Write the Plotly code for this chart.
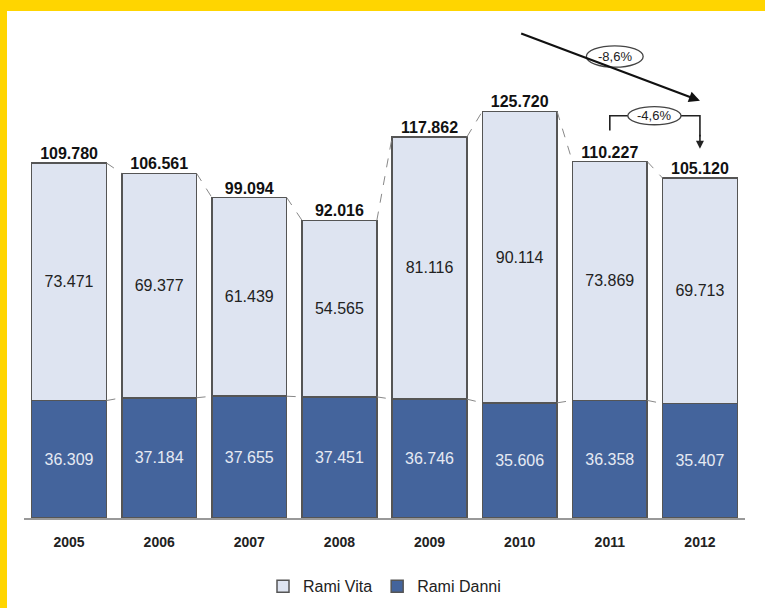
import plotly.graph_objects as go

years = ["2005", "2006", "2007", "2008", "2009", "2010", "2011", "2012"]
rami_vita = [73.471, 69.377, 61.439, 54.565, 81.116, 90.114, 73.869, 69.713]
rami_danni = [36.309, 37.184, 37.655, 37.451, 36.746, 35.606, 36.358, 35.407]
totals = [109.780, 106.561, 99.094, 92.016, 117.862, 125.720, 110.227, 105.120]
change_total = "-8,6%"
change_last = "-4,6%"

def fmt(v):
    return f"{v:.3f}"

xs = list(range(len(years)))
BW = 0.83
FONT = "Liberation Sans, Arial, sans-serif"
VITA_C = "#DEE4F1"
DANNI_C = "#44649C"
EDGE = "#555555"

fig = go.Figure()
fig.add_trace(go.Bar(
    x=xs, y=rami_danni, name="Rami Danni", width=BW,
    marker=dict(color=DANNI_C, line=dict(color=EDGE, width=1.5)),
    text=[fmt(v) for v in rami_danni], textposition="inside", insidetextanchor="middle",
    textangle=0, constraintext="none",
    textfont=dict(family=FONT, size=16, color="#E6EAF3"), hoverinfo="skip",
    legendrank=2,
))
fig.add_trace(go.Bar(
    x=xs, y=rami_vita, name="Rami Vita", width=BW,
    marker=dict(color=VITA_C, line=dict(color=EDGE, width=1.5)),
    text=[fmt(v) for v in rami_vita], textposition="inside", insidetextanchor="middle",
    textangle=0, constraintext="none",
    textfont=dict(family=FONT, size=16, color="#222222"), hoverinfo="skip",
    legendrank=1,
))

# dashed connectors between bars (totals and danni boundary)
for series in (totals, rami_danni):
    for i in range(len(xs) - 1):
        fig.add_trace(go.Scatter(
            x=[xs[i] + BW / 2, xs[i + 1] - BW / 2], y=[series[i], series[i + 1]],
            mode="lines", line=dict(color="#888888", width=1, dash="dash"),
            showlegend=False, hoverinfo="skip",
        ))

# totals above bars
fig.add_trace(go.Scatter(
    x=xs, y=totals, mode="text", text=[fmt(v) for v in totals],
    textposition="top center",
    textfont=dict(family=FONT, size=16, color="#111111", weight="bold"),
    showlegend=False, hoverinfo="skip",
))

# arrow for overall change (2010 -> 2012)
fig.add_annotation(x=7.0, y=129.0, ax=5.0, ay=150.0, xref="x", yref="y", axref="x", ayref="y",
                   showarrow=True, arrowhead=2, arrowsize=1, arrowwidth=2.2, arrowcolor="#111111",
                   text="")
fig.add_shape(type="circle", xref="x", yref="y", x0=5.74, x1=6.37, y0=139.4, y1=146.0,
              fillcolor="white", line=dict(color="#444444", width=1.3))
fig.add_annotation(x=6.055, y=142.7, xref="x", yref="y", text=change_total, showarrow=False,
                   font=dict(family=FONT, size=13, color="#222222"))

# bracket for last-year change (2011 -> 2012)
fig.add_shape(type="path", xref="x", yref="y",
              path="M 6,119.8 L 6,124.4 L 7.0,124.4 L 7.0,118",
              line=dict(color="#222222", width=1.6))
fig.add_annotation(x=7.0, y=114.2, ax=7.0, ay=119.0, xref="x", yref="y", axref="x", ayref="y",
                   showarrow=True, arrowhead=2, arrowsize=1, arrowwidth=1.6, arrowcolor="#222222",
                   text="")
fig.add_shape(type="circle", xref="x", yref="y", x0=6.2, x1=6.79, y0=121.6, y1=127.2,
              fillcolor="white", line=dict(color="#444444", width=1.3))
fig.add_annotation(x=6.495, y=124.4, xref="x", yref="y", text=change_last, showarrow=False,
                   font=dict(family=FONT, size=13, color="#222222"))

# yellow frame (top and left)
L, W = 24, 721
T, H = 20, 498
def px(v):
    return (v - L) / W
def py(v):
    return (T + H - v) / H
fig.add_shape(type="rect", xref="paper", yref="paper", x0=px(0), x1=px(765), y0=py(11), y1=py(0),
              fillcolor="#FFD500", line=dict(width=0), layer="above")
fig.add_shape(type="rect", xref="paper", yref="paper", x0=px(0), x1=px(7), y0=py(608), y1=py(0),
              fillcolor="#FFD500", line=dict(width=0), layer="above")

fig.update_layout(
    width=765, height=608,
    margin=dict(l=L, r=765 - L - W, t=T, b=608 - T - H, autoexpand=False),
    barmode="stack",
    paper_bgcolor="white", plot_bgcolor="white",
    font=dict(family=FONT, color="#222222"),
    showlegend=True,
    legend=dict(orientation="h", x=0.5, xanchor="center", y=-0.137, yanchor="middle",
                font=dict(family=FONT, size=16, color="#222222"), traceorder="normal"),
    xaxis=dict(range=[-0.5, 7.5], tickvals=xs, ticktext=years, showgrid=False, zeroline=False,
               showline=True, linecolor="#999999", linewidth=1.5,
               ticks="outside", ticklen=10, tickcolor="rgba(0,0,0,0)",
               tickfont=dict(family=FONT, size=14, color="#222222", weight="bold"), fixedrange=True),
    yaxis=dict(range=[0, H / 3.234], visible=False, showgrid=False, zeroline=False, fixedrange=True),
)

fig.write_html("out.html")
